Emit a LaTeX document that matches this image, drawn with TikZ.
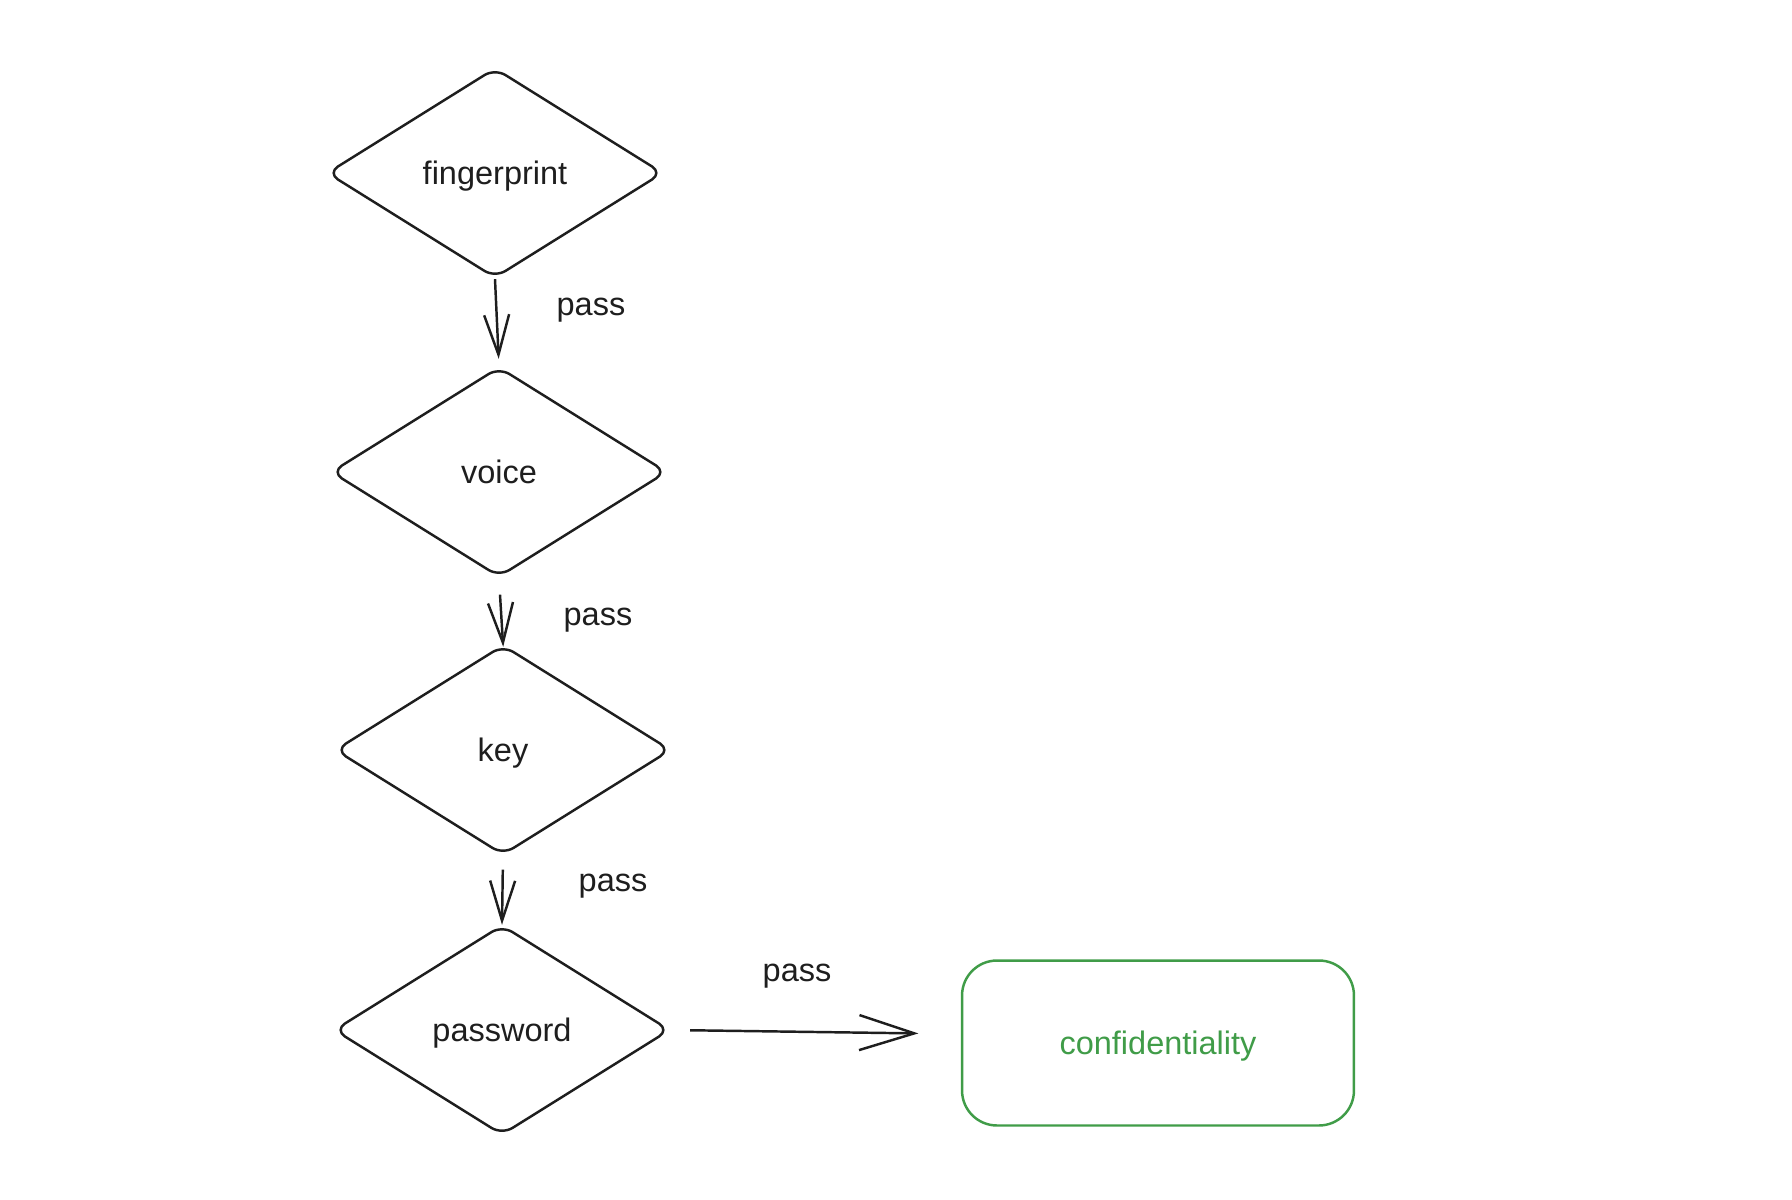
\documentclass[tikz,border=0pt]{standalone}
\usepackage{fontspec}
\setmainfont{Liberation Sans}
\usetikzlibrary{shapes.geometric, arrows.meta, positioning}
\definecolor{PassGreen}{RGB}{64, 156, 72}
\definecolor{InkBlack}{RGB}{30, 30, 30}

\tikzset{
  check/.style={diamond, draw=InkBlack, line width=1.4pt, rounded corners=7pt,
    minimum width=6.72cm, minimum height=4.2cm, inner sep=0pt, text=InkBlack,
    text depth=0pt, font=\fontsize{18.5}{22}\selectfont},
  goal/.style={rectangle, draw=PassGreen, line width=1.4pt, rounded corners=0.7cm,
    minimum width=7.84cm, minimum height=3.3cm, text=PassGreen,
    text depth=0pt, font=\fontsize{18.5}{22}\selectfont},
  flow/.style={draw=InkBlack, line width=1.4pt, -{Straight Barb[length=0.8cm, width=0.5cm]}},
  passlabel/.style={text=InkBlack, font=\fontsize{18.5}{22}\selectfont}
}

\begin{document}
\begin{tikzpicture}[x=0.02cm, y=-0.02cm]
  \useasboundingbox (0,0) rectangle (1792,1200);

  % checks, top to bottom
  \node[check] (fingerprint) at (495,173) {fingerprint};
  \node[check] (voice) at (499,472) {voice};
  \node[check] (key) at (503,750) {key};
  \node[check] (password) at (502,1030) {password};
  \node[goal] (confidentiality) at (1158,1043) {confidentiality};

  % connectors
  \draw[flow, shorten <=0cm, shorten >=0.14cm] (fingerprint.south) -- (voice.north);
  \draw[flow, shorten <=0.33cm, shorten >=-0.06cm] (voice.south) -- (key.north);
  \draw[flow, shorten <=0.27cm, shorten >=-0.02cm] (key.south) -- (password.north);
  \draw[flow, -{Straight Barb[length=1.1cm, width=0.7cm]}, shorten <=0.38cm, shorten >=0.85cm]
    (password.east) -- ([yshift=0.18cm]confidentiality.west);

  \node[passlabel] (pass1) at (591,310) {pass};
  \node[passlabel] (pass2) at (598,620) {pass};
  \node[passlabel] (pass3) at (613,886) {pass};
  \node[passlabel] (pass4) at (797,976) {pass};
\end{tikzpicture}
\end{document}
